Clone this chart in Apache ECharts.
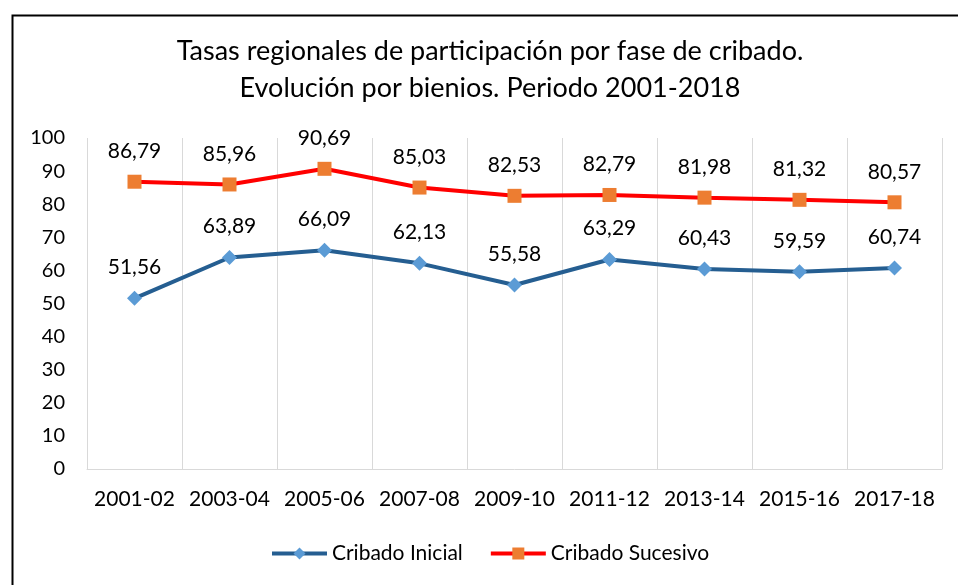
<!DOCTYPE html>
<html>
<head>
<meta charset="utf-8">
<script src="https://cdn.jsdelivr.net/npm/echarts@6/dist/echarts.min.js"></script>
<style>
html,body{margin:0;padding:0;background:#fff;}
#c{width:958px;height:585px;}
</style>
</head>
<body>
<div id="c"></div>
<script>
const categories = ['2001-02','2003-04','2005-06','2007-08','2009-10','2011-12','2013-14','2015-16','2017-18'];
const inicial = [51.56, 63.89, 66.09, 62.13, 55.58, 63.29, 60.43, 59.59, 60.74];
const sucesivo = [86.79, 85.96, 90.69, 85.03, 82.53, 82.79, 81.98, 81.32, 80.57];
const titleLines = ['Tasas regionales de participación por fase de cribado.', 'Evolución por bienios. Periodo 2001-2018'];

const FONT = 'Lato, Calibri, sans-serif';
const chart = echarts.init(document.getElementById('c'));
const fmt = p => p.value.toFixed(2).replace('.', ',');
chart.setOption({
  animation: false,
  textStyle: {fontFamily: FONT},
  graphic: [{
    type: 'rect', left: 10, top: 13,
    shape: {width: 1000, height: 700},
    style: {fill: 'none', stroke: '#000', lineWidth: 2}, silent: true, z: 100
  }],
  title: {
    text: titleLines.join('\n'),
    left: 490, textAlign: 'center', top: 33, padding: 0,
    textStyle: {fontFamily: FONT, fontSize: 27, fontWeight: 'normal', color: '#000', lineHeight: 37}
  },
  legend: {
    bottom: 16, left: 265,
    itemWidth: 55, itemHeight: 15, itemGap: 26,
    lineStyle: {width: 4},
    textStyle: {fontFamily: FONT, fontSize: 21, color: '#000'},
    data: ['Cribado Inicial', 'Cribado Sucesivo']
  },
  grid: {left: 87, right: 16, top: 138, bottom: 116},
  xAxis: {
    type: 'category', data: categories, boundaryGap: true,
    axisLine: {lineStyle: {color: '#d9d9d9', width: 1}},
    axisTick: {show: false},
    splitLine: {show: true, lineStyle: {color: '#d9d9d9', width: 1}},
    axisLabel: {fontFamily: FONT, fontSize: 21, color: '#000', margin: 20, interval: 0}
  },
  yAxis: {
    type: 'value', min: 0, max: 100, interval: 10,
    axisLine: {show: false}, axisTick: {show: false}, splitLine: {show: false},
    axisLabel: {fontFamily: FONT, fontSize: 20, color: '#000', margin: 22}
  },
  series: [{
    name: 'Cribado Inicial', type: 'line', data: inicial,
    symbol: 'diamond', symbolSize: 15,
    lineStyle: {color: '#255E91', width: 4},
    itemStyle: {color: '#5B9BD5'},
    label: {show: true, position: 'top', distance: 13, formatter: fmt,
      fontFamily: FONT, fontSize: 21, color: '#000'}
  }, {
    name: 'Cribado Sucesivo', type: 'line', data: sucesivo,
    symbol: 'rect', symbolSize: 14,
    lineStyle: {color: '#FF0000', width: 4},
    itemStyle: {color: '#ED7D31'},
    label: {show: true, position: 'top', distance: 13, formatter: fmt,
      fontFamily: FONT, fontSize: 21, color: '#000'}
  }]
});
</script>
</body>
</html>
